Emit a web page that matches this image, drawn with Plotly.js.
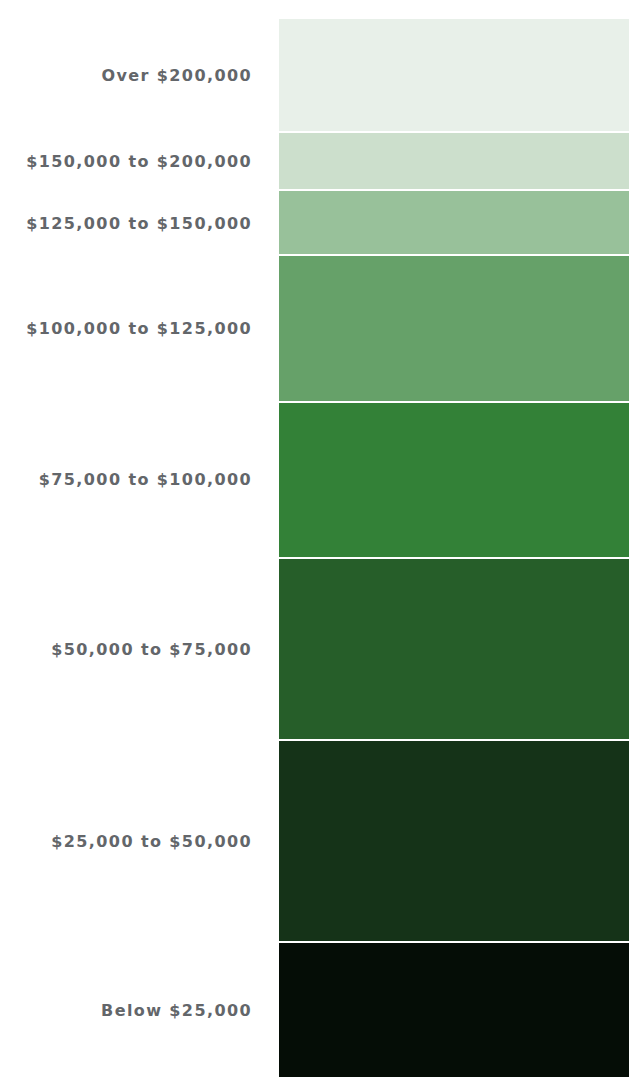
<!DOCTYPE html>
<html>
<head>
<meta charset="utf-8">
<script src="https://cdn.plot.ly/plotly-3.0.1.min.js"></script>
<style>
html,body{margin:0;padding:0;background:#fff;}
#chart{width:644px;height:1087px;}
.ytick text{letter-spacing:1.4px;}
</style>
</head>
<body>
<div id="chart"></div>
<script>
// Bottom to top
const categories = ["Below $25,000","$25,000 to $50,000","$50,000 to $75,000","$75,000 to $100,000","$100,000 to $125,000","$125,000 to $150,000","$150,000 to $200,000","Over $200,000"];
const shares = [12.85, 19.03, 17.2, 14.72, 13.8, 6.14, 5.51, 10.75];
const colors = ["#050d06","#153318","#265e29","#338137","#66a169","#98c19a","#ccdfcc","#e8f0e9"];

const traces = categories.map((c,i)=>({
  type:'bar', x:['All'], y:[shares[i]], name:c,
  marker:{color:colors[i], line:{color:'#ffffff', width:2}},
  hoverinfo:'name+y'
}));

let cum = 0; const mids = [];
shares.forEach(v=>{ mids.push(cum + v/2); cum += v; });

const layout = {
  width:644, height:1087,
  margin:{l:278, r:14, t:18, b:9, pad:0},
  barmode:'stack', bargap:0, showlegend:false,
  paper_bgcolor:'#fff', plot_bgcolor:'#fff',
  xaxis:{visible:false, fixedrange:true},
  yaxis:{range:[0,cum], tickmode:'array', tickvals:mids, ticktext:categories,
    showgrid:false, zeroline:false, showline:false, ticks:'', ticklabelstandoff:25,
    tickfont:{family:'"DejaVu Sans", sans-serif', size:16, color:'#63666a', weight:700}, fixedrange:true}
};
Plotly.newPlot('chart', traces, layout, {displayModeBar:false, staticPlot:true});
</script>
</body>
</html>
